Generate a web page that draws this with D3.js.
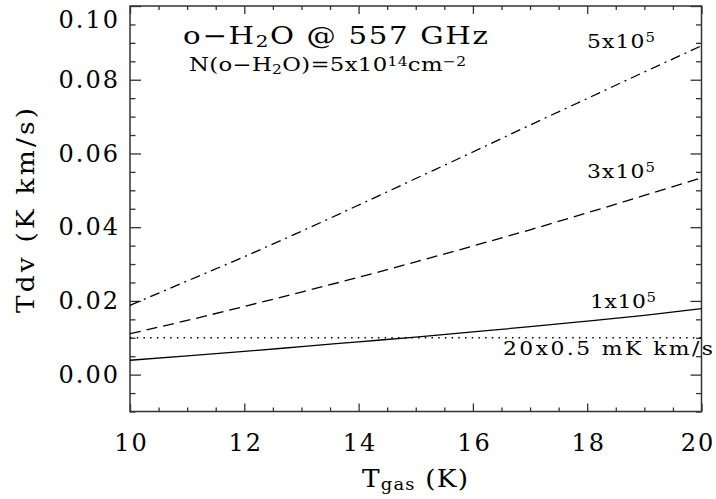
<!DOCTYPE html>
<html><head><meta charset="utf-8">
<script src="https://cdn.jsdelivr.net/npm/d3@7"></script>
<style>
html,body{margin:0;padding:0;background:#fff;}
svg{display:block;}
text{font-family:"DejaVu Serif",serif;fill:#000;}
</style></head>
<body><svg id="c" width="716" height="499"></svg>
<script>
// ---- data ----
const tgas = [10, 11, 12, 13, 14, 15, 16, 17, 18, 19, 20];
const tdv1e5 = [0.0039, 0.0051, 0.0063, 0.0076, 0.0089, 0.0102, 0.0116, 0.0130, 0.0145, 0.0161, 0.0179];
const tdv3e5 = [0.0111, 0.0147, 0.0185, 0.0224, 0.0264, 0.0306, 0.0349, 0.0393, 0.0439, 0.0486, 0.0534];
const tdv5e5 = [0.0188, 0.0254, 0.0320, 0.0389, 0.0460, 0.0532, 0.0604, 0.0677, 0.0749, 0.0821, 0.0892];
const threshold = 0.01;
const xMajor = [10, 12, 14, 16, 18, 20];
const yMajor = [0.00, 0.02, 0.04, 0.06, 0.08, 0.10];
const yTickLabels = ["0.00", "0.02", "0.04", "0.06", "0.08", "0.10"];

const svg = d3.select("#c");
const L = 130, R = 701.5, T = 6, B = 411.5;
const x = d3.scaleLinear().domain([10, 20]).range([L, R]);
const y = d3.scaleLinear().domain([-0.01, 0.10]).range([B, T]);

const axisColor = "#333";
const xMinor = d3.range(10, 20.001, 0.5).filter(v => Math.abs(v / 2 - Math.round(v / 2)) > 1e-6);
const yMinor = d3.range(-0.01, 0.1001, 0.005).filter(v => Math.abs(v / 0.02 - Math.round(v / 0.02)) > 1e-6);

function styleAxis(g) {
  g.select(".domain").remove();
  g.selectAll("line").attr("stroke", axisColor).attr("stroke-width", 1.3);
  g.selectAll("text").attr("font-family", "DejaVu Serif").attr("font-size", 24).attr("fill", "#000");
}
// bottom
const gx = svg.append("g").attr("transform", `translate(0,${B})`)
  .call(d3.axisBottom(x).tickValues(xMajor).tickSize(-8).tickPadding(22).tickFormat(d3.format("d")))
  .call(styleAxis);
gx.selectAll("text").attr("letter-spacing", 2).attr("dx", d => d === 20 ? -4 : 1);
svg.append("g").attr("transform", `translate(0,${B})`)
  .call(d3.axisBottom(x).tickValues(xMinor).tickSize(-4).tickFormat(""))
  .call(styleAxis);
// top
svg.append("g").attr("transform", `translate(0,${T})`)
  .call(d3.axisTop(x).tickValues(xMajor).tickSize(-8).tickFormat(""))
  .call(styleAxis);
svg.append("g").attr("transform", `translate(0,${T})`)
  .call(d3.axisTop(x).tickValues(xMinor).tickSize(-4).tickFormat(""))
  .call(styleAxis);
// left
const gy = svg.append("g").attr("transform", `translate(${L},0)`)
  .call(d3.axisLeft(y).tickValues(yMajor).tickSize(-11).tickPadding(12).tickFormat((d, i) => yTickLabels[i]))
  .call(styleAxis);
gy.selectAll("text").attr("letter-spacing", 2).attr("dx", 2)
  .attr("dy", d => d >= 0.0999 ? "0.9em" : "0.32em");
svg.append("g").attr("transform", `translate(${L},0)`)
  .call(d3.axisLeft(y).tickValues(yMinor).tickSize(-5.5).tickFormat(""))
  .call(styleAxis);
// right
svg.append("g").attr("transform", `translate(${R},0)`)
  .call(d3.axisRight(y).tickValues(yMajor).tickSize(-11).tickFormat(""))
  .call(styleAxis);
svg.append("g").attr("transform", `translate(${R},0)`)
  .call(d3.axisRight(y).tickValues(yMinor).tickSize(-5.5).tickFormat(""))
  .call(styleAxis);
// frame
svg.append("rect").attr("x", L).attr("y", T).attr("width", R - L).attr("height", B - T)
  .attr("fill", "none").attr("stroke", axisColor).attr("stroke-width", 1.5);

// lines
const line = d3.line().x((d, i) => x(tgas[i])).y(d => y(d)).curve(d3.curveMonotoneX);
const series = [
  { v: tdv1e5, dash: null },
  { v: tdv3e5, dash: "11,6" },
  { v: tdv5e5, dash: "10,5,2,5" }
];
series.forEach(s => {
  svg.append("path").datum(s.v).attr("d", line).attr("fill", "none")
    .attr("stroke", "#000").attr("stroke-width", 1.3)
    .attr("stroke-dasharray", s.dash);
});
svg.append("line").attr("x1", x(10)).attr("x2", x(20)).attr("y1", y(threshold)).attr("y2", y(threshold))
  .attr("stroke", "#000").attr("stroke-width", 1.4).attr("stroke-dasharray", "1.5,5.2");

// text helpers
function fit(sel, target, sx) {
  const n = sel.node().getNumberOfChars();
  const w = sel.node().getComputedTextLength();
  sel.attr("letter-spacing", (target / sx - w) / Math.max(1, n - 1));
}
function rich(parts, xpos, ypos, size, sx, target) {
  const t = svg.append("text").attr("transform", `translate(${xpos},${ypos}) scale(${sx},1)`).attr("font-size", size);
  parts.forEach(p => {
    const ts = t.append("tspan").text(p[0]);
    if (p[1] === "sub") ts.attr("font-size", size * 0.68).attr("baseline-shift", "-18%");
    if (p[1] === "sup") ts.attr("font-size", size * 0.68).attr("baseline-shift", "45%");
  });
  fit(t, target, sx);
  return t;
}
// title
rich([["o−H"], ["2", "sub"], ["O @ 557 GHz"]], 183, 44, 24, 1.22, 305);
rich([["N(o−H"], ["2", "sub"], ["O)=5x10"], ["14", "sup"], ["cm"], ["−2", "sup"]], 189, 71, 19, 1.2, 277);
// curve labels
rich([["5x10"], ["5", "sup"]], 587, 48, 19, 1.15, 68);
rich([["3x10"], ["5", "sup"]], 587, 178, 19, 1.15, 68);
rich([["1x10"], ["5", "sup"]], 590, 308, 19, 1.15, 66);
rich([["20x0.5 mK km/s"]], 503, 355, 19, 1.15, 210);

// axis titles
rich([["T"], ["gas", "sub"], [" (K)"]], 362, 487, 24, 1.1, 106);
const yt = svg.append("text").attr("transform", "translate(34,313) rotate(-90) scale(1.1,1)").attr("font-size", 24).text("Tdv (K km/s)");
fit(yt, 205, 1.1);
</script></body></html>
